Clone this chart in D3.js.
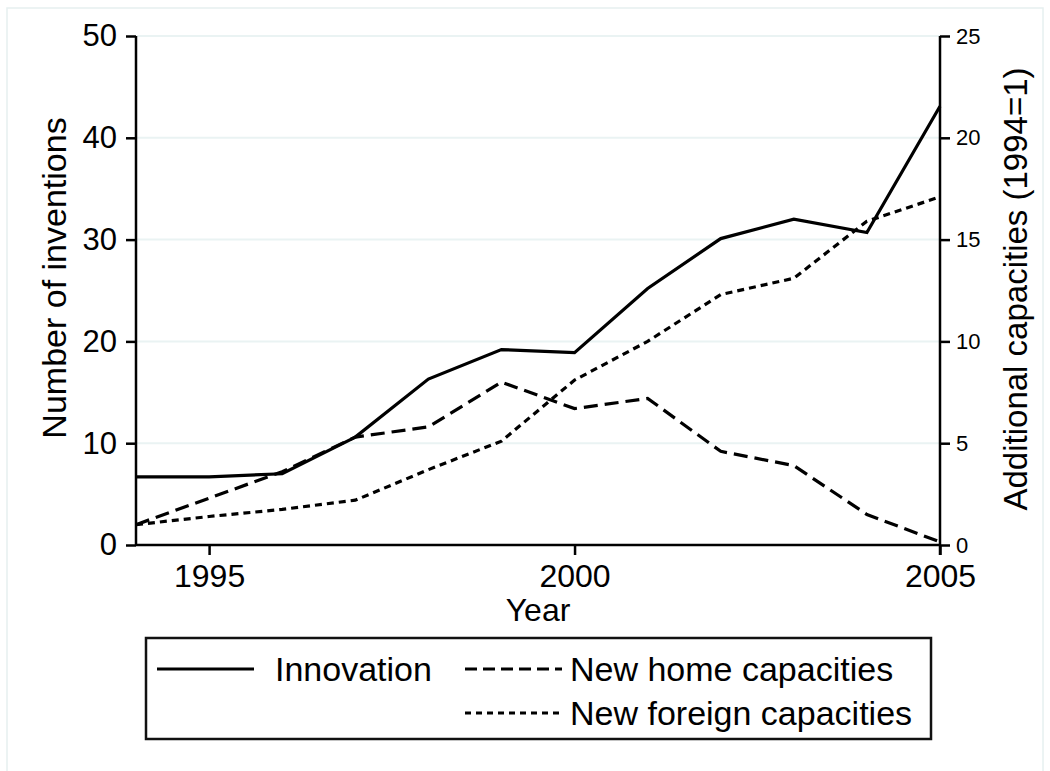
<!DOCTYPE html>
<html>
<head>
<meta charset="utf-8">
<script src="https://cdn.jsdelivr.net/npm/d3@7"></script>
<style>
  body { margin: 0; background: #fff; }
  svg text { font-family: "Liberation Sans", Arial, Helvetica, sans-serif; fill: #000; }
</style>
</head>
<body>
<script>
// data
var years = [1994, 1995, 1996, 1997, 1998, 1999, 2000, 2001, 2002, 2003, 2004, 2005];
var innovation = [6.7, 6.7, 7.0, 10.6, 16.3, 19.2, 18.9, 25.2, 30.1, 32.0, 30.7, 43.1];
var homeCap = [1.0, 2.3, 3.6, 5.3, 5.8, 8.0, 6.7, 7.2, 4.6, 3.9, 1.5, 0.15];
var foreignCap = [1.0, 1.4, 1.75, 2.2, 3.7, 5.1, 8.1, 10.0, 12.3, 13.1, 15.9, 17.1];
var leftTicks = [0, 10, 20, 30, 40, 50];
var rightTicks = [0, 5, 10, 15, 20, 25];
var xTicks = [1995, 2000, 2005];
var legendLabels = ["Innovation", "New home capacities", "New foreign capacities"];

var W = 1050, H = 771;
var svg = d3.select("body").append("svg").attr("width", W).attr("height", H);

// pale outer frame (stata graph region)
svg.append("rect").attr("x", 7).attr("y", 8).attr("width", 1036).attr("height", 780)
   .attr("fill", "none").attr("stroke", "#e6f0f0").attr("stroke-width", 1.5);

var x = d3.scaleLinear().domain([1994, 2005]).range([136, 940]);
var yL = d3.scaleLinear().domain([0, 50]).range([545, 36]);
var yR = d3.scaleLinear().domain([0, 25]).range([545, 36]);

// gridlines
svg.append("g").selectAll("line").data(leftTicks.filter(function(d) { return d > 0; }))
   .enter().append("line")
   .attr("x1", 137).attr("x2", 940)
   .attr("y1", function(d) { return yL(d); }).attr("y2", function(d) { return yL(d); })
   .attr("stroke", "#eaf3f3").attr("stroke-width", 2);

// axes
var gL = svg.append("g").attr("transform", "translate(136,0)")
            .call(d3.axisLeft(yL).tickValues(leftTicks).tickSize(10).tickPadding(9));
var gR = svg.append("g").attr("transform", "translate(940,0)")
            .call(d3.axisRight(yR).tickValues(rightTicks).tickSize(10).tickPadding(6));
var gB = svg.append("g").attr("transform", "translate(0,545)")
            .call(d3.axisBottom(x).tickValues(xTicks).tickFormat(d3.format("d")).tickSize(10).tickPadding(9));

[gL, gR, gB].forEach(function(g) {
  g.select(".domain").attr("stroke", "#000").attr("stroke-width", 2.5);
  g.selectAll(".tick line").attr("stroke", "#000").attr("stroke-width", 2.5);
  g.selectAll("text").attr("font-family", null).attr("fill", "#000");
});
gL.selectAll("text").style("font-size", "31px");
gB.selectAll("text").style("font-size", "32px");
gR.selectAll("text").style("font-size", "22px");
// domain lines without end caps (stata draws plain lines)
gL.select(".domain").attr("d", "M0," + yL(50) + "V" + (yL(0) + 1));
gR.select(".domain").attr("d", "M0," + yR(25) + "V" + (yR(0) + 10));
gB.select(".domain").attr("d", "M" + x(1994) + ",0H" + x(2005));

// axis titles
svg.append("text").attr("transform", "translate(66,278) rotate(-90)")
   .attr("text-anchor", "middle").style("font-size", "34px").text("Number of inventions");
svg.append("text").attr("transform", "translate(1027,289) rotate(-90)")
   .attr("text-anchor", "middle").style("font-size", "33px").text("Additional capacities (1994=1)");
svg.append("text").attr("x", 538).attr("y", 621)
   .attr("text-anchor", "middle").style("font-size", "32px").text("Year");

// lines
var lineL = d3.line().x(function(d, i) { return x(years[i]); }).y(function(d) { return yL(d); });
var lineR = d3.line().x(function(d, i) { return x(years[i]); }).y(function(d) { return yR(d); });

var series = [
  { vals: foreignCap, gen: lineR, dash: "7,5" },
  { vals: homeCap, gen: lineR, dash: "14,7" },
  { vals: innovation, gen: lineL, dash: null }
];
svg.append("g").selectAll("path").data(series).enter().append("path")
   .attr("d", function(d) { return d.gen(d.vals); })
   .attr("fill", "none").attr("stroke", "#000").attr("stroke-width", 3.2)
   .attr("stroke-dasharray", function(d) { return d.dash; });

// legend
var leg = svg.append("g");
leg.append("rect").attr("x", 146).attr("y", 638).attr("width", 785).attr("height", 101)
   .attr("fill", "#fff").attr("stroke", "#111").attr("stroke-width", 2.5);
var legItems = [
  { label: legendLabels[0], dash: null, lx: 157, tx: 275, ty: 669 },
  { label: legendLabels[1], dash: "12,6", lx: 465, tx: 570, ty: 669 },
  { label: legendLabels[2], dash: "6,5", lx: 465, tx: 570, ty: 713 }
];
legItems.forEach(function(d) {
  leg.append("line").attr("x1", d.lx).attr("x2", d.lx + 97).attr("y1", d.ty).attr("y2", d.ty)
     .attr("stroke", "#000").attr("stroke-width", 3).attr("stroke-dasharray", d.dash);
  leg.append("text").attr("x", d.tx).attr("y", d.ty).attr("dy", "0.36em")
     .style("font-size", "34px").text(d.label);
});
</script>
</body>
</html>
